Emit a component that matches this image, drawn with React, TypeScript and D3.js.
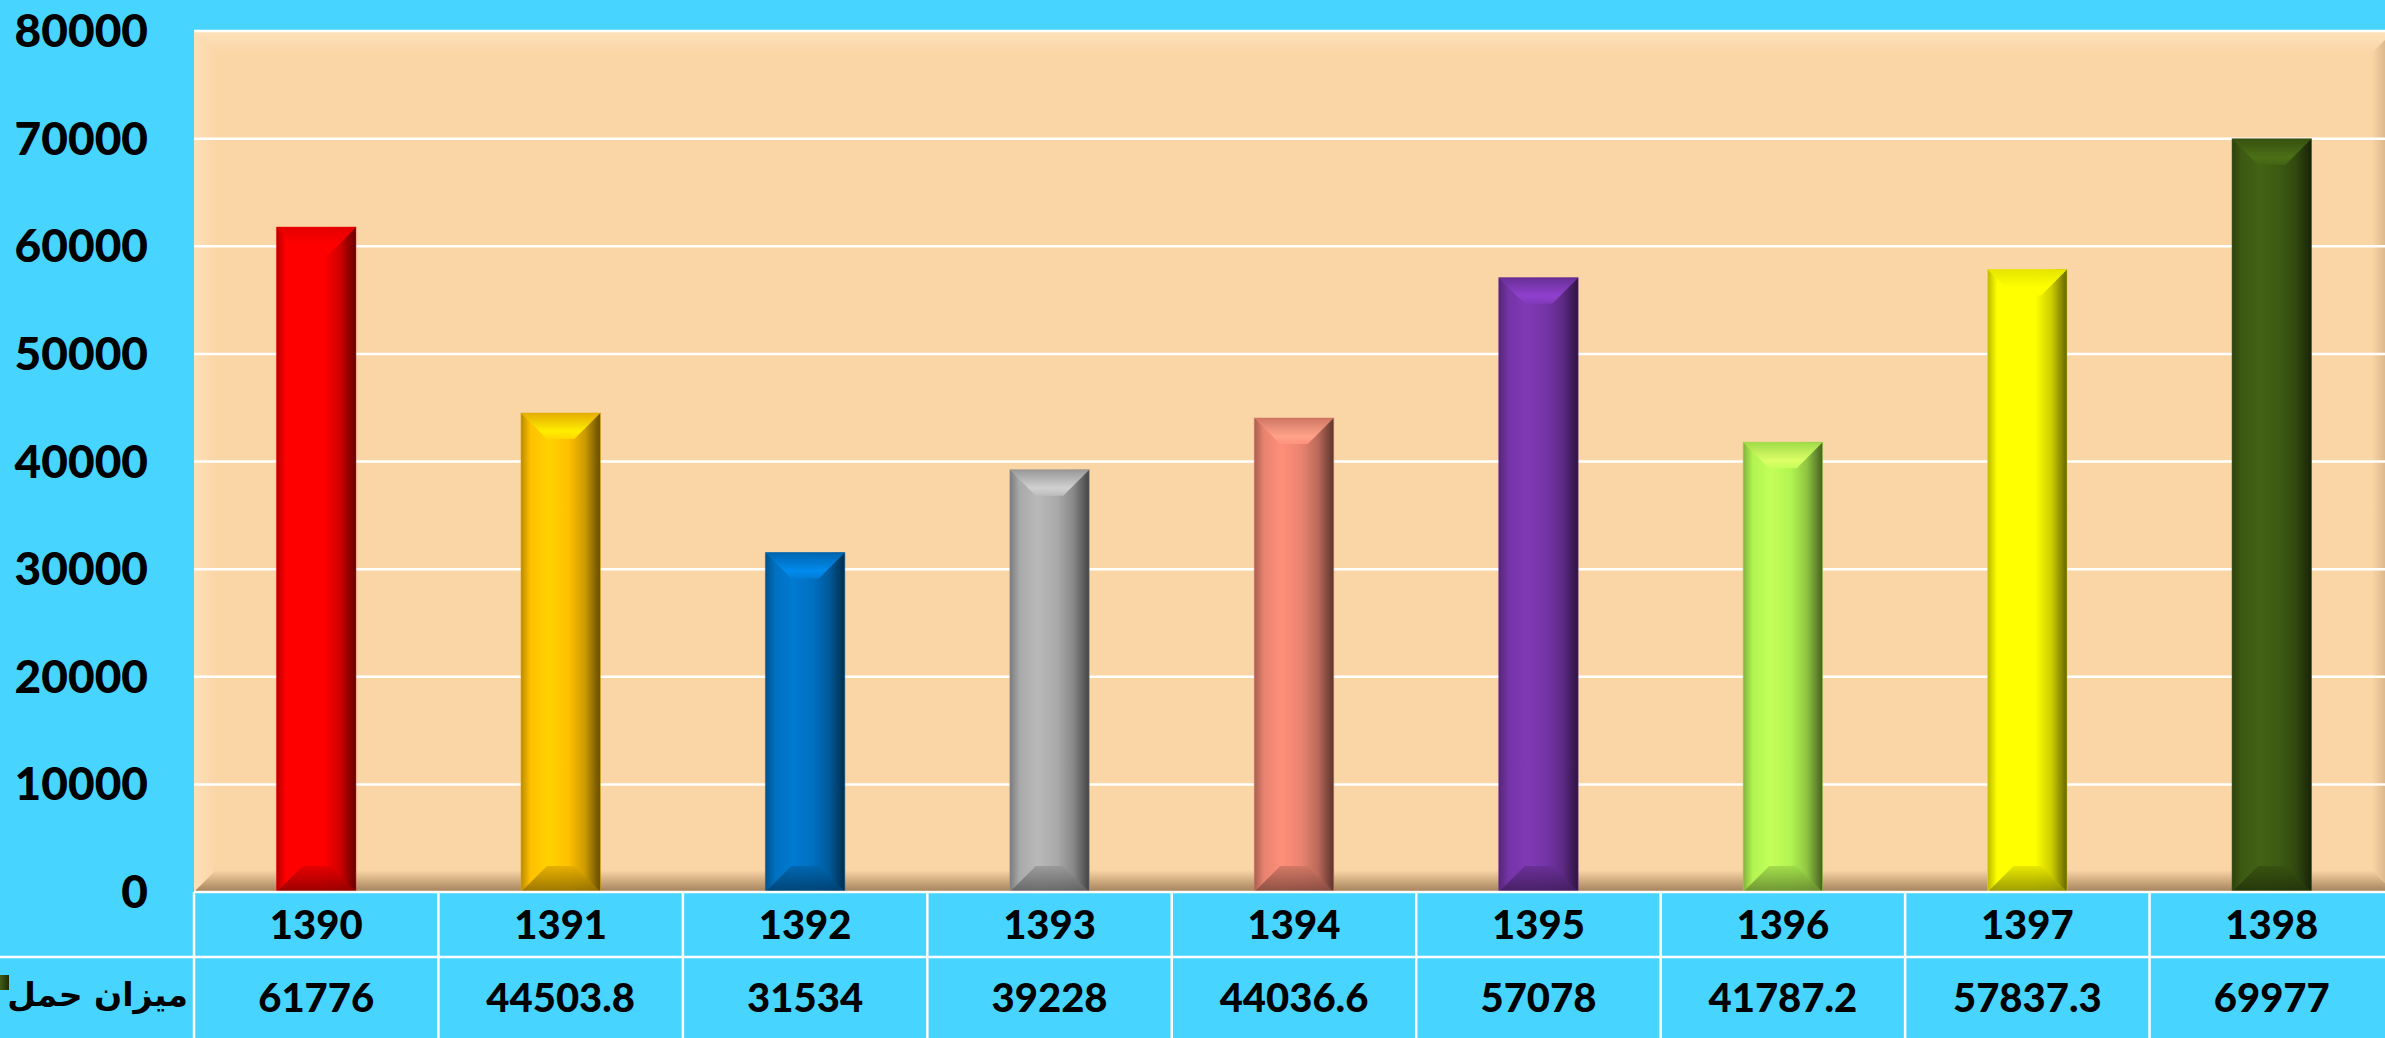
import React from 'react';
import * as d3 from 'd3';

const years = ['1390', '1391', '1392', '1393', '1394', '1395', '1396', '1397', '1398'];
const values = [61776, 44503.8, 31534, 39228, 44036.6, 57078, 41787.2, 57837.3, 69977];
const barColors = ['#ff0000', '#ffc000', '#0070c0', '#a9a9a9', '#e8836f', '#7434a6', '#b2f452', '#ffff00', '#3d5a12'];
const yTicks = [0, 10000, 20000, 30000, 40000, 50000, 60000, 70000, 80000];
const seriesName = 'میزان حمل';

const W = 2385;
const H = 1038;
const BG = '#47d5ff';
const PLOT = '#fad5a6';
const numFont = 'Lato, "DejaVu Sans", sans-serif';

const App = () => {
  const plot = { left: 194, right: 2394, top: 31, bottom: 892 };
  const rowMid = 957;

  const x = d3.scaleBand().domain(years).range([plot.left, plot.right]).padding(0);
  const y = d3.scaleLinear().domain([0, 80000]).range([plot.bottom, plot.top]);
  const barW = x.bandwidth() * 0.325;
  const bev = 26;
  const pb = 22; // plot area bevel

  const shade = (c, k) => d3.color(c).darker(k).formatHex();
  const tint = (c, k) => d3.color(c).brighter(k).formatHex();

  return (
    <svg width={W} height={H} style={{ position: 'absolute', left: 0, top: 0, display: 'block' }}>
      <defs>
        {barColors.map((c, i) => (
          <React.Fragment key={i}>
            <linearGradient id={`side${i}`} x1="0" x2="1" y1="0" y2="0">
              <stop offset="0" stopColor={shade(c, 0.9)} />
              <stop offset="0.12" stopColor={c} />
              <stop offset="0.35" stopColor={tint(c, 0.25)} />
              <stop offset="0.6" stopColor={c} />
              <stop offset="0.8" stopColor={shade(c, 0.6)} />
              <stop offset="1" stopColor={shade(c, 2.6)} />
            </linearGradient>
            <linearGradient id={`top${i}`} x1="0" x2="0" y1="0" y2="1">
              <stop offset="0" stopColor={shade(c, 0.3)} />
              <stop offset="0.7" stopColor={tint(c, 0.6)} />
              <stop offset="1" stopColor={tint(c, 0.3)} />
            </linearGradient>
            <linearGradient id={`bot${i}`} x1="0" x2="0" y1="0" y2="1">
              <stop offset="0" stopColor={shade(c, 0.3)} />
              <stop offset="1" stopColor={shade(c, 1.6)} />
            </linearGradient>
          </React.Fragment>
        ))}
        <linearGradient id="ptop" x1="0" x2="0" y1="0" y2="1">
          <stop offset="0" stopColor="#fee2bc" />
          <stop offset="1" stopColor={PLOT} />
        </linearGradient>
        <linearGradient id="pbot" x1="0" x2="0" y1="0" y2="1">
          <stop offset="0" stopColor={PLOT} />
          <stop offset="1" stopColor="#a3805a" />
        </linearGradient>
        <linearGradient id="pleft" x1="0" x2="1" y1="0" y2="0">
          <stop offset="0" stopColor="#fde0b8" />
          <stop offset="1" stopColor={PLOT} />
        </linearGradient>
        <linearGradient id="pright" x1="0" x2="1" y1="0" y2="0">
          <stop offset="0" stopColor={PLOT} />
          <stop offset="1" stopColor="#c9a57c" />
        </linearGradient>
        <linearGradient id="legKey" x1="0" x2="1" y1="0" y2="0">
          <stop offset="0" stopColor="#5a7a22" />
          <stop offset="1" stopColor="#1e2e06" />
        </linearGradient>
      </defs>

      <rect x={0} y={0} width={W} height={H} fill={BG} />

      {/* plot area with bevel */}
      <rect x={plot.left} y={plot.top} width={plot.right - plot.left} height={plot.bottom - plot.top} fill={PLOT} />
      <polygon
        points={`${plot.left},${plot.top} ${plot.right},${plot.top} ${plot.right - pb},${plot.top + pb} ${plot.left + pb},${plot.top + pb}`}
        fill="url(#ptop)"
      />
      <polygon
        points={`${plot.left},${plot.top} ${plot.left + pb},${plot.top + pb} ${plot.left + pb},${plot.bottom - pb} ${plot.left},${plot.bottom}`}
        fill="url(#pleft)"
      />
      <polygon
        points={`${plot.right},${plot.top} ${plot.right - pb},${plot.top + pb} ${plot.right - pb},${plot.bottom - pb} ${plot.right},${plot.bottom}`}
        fill="url(#pright)"
      />
      <polygon
        points={`${plot.left},${plot.bottom} ${plot.right},${plot.bottom} ${plot.right - pb},${plot.bottom - pb} ${plot.left + pb},${plot.bottom - pb}`}
        fill="url(#pbot)"
      />

      {/* gridlines */}
      {yTicks.filter(t => t > 0).map(t => (
        <line key={t} x1={plot.left} x2={plot.right} y1={y(t)} y2={y(t)} stroke="#ffffff" strokeWidth={2.5} />
      ))}

      {/* y tick labels */}
      {yTicks.map(t => (
        <text
          key={t}
          x={148}
          y={y(t)}
          dy="0.35em"
          textAnchor="end"
          fontFamily={numFont}
          fontWeight={900}
          fontSize={46}
          fill="#000"
        >
          {t}
        </text>
      ))}

      {/* bars */}
      {values.map((v, i) => {
        const cx = x(years[i]) + x.bandwidth() / 2;
        const x0 = cx - barW / 2;
        const x1 = cx + barW / 2;
        const yt = y(v);
        const yb = y(0);
        return (
          <g key={i}>
            <rect x={x0} y={yt} width={barW} height={yb - yt} fill={`url(#side${i})`} />
            <polygon
              points={`${x0},${yt} ${x1},${yt} ${x1 - bev},${yt + bev} ${x0 + bev},${yt + bev}`}
              fill={`url(#top${i})`}
            />
            <polygon
              points={`${x0},${yb} ${x1},${yb} ${x1 - bev},${yb - bev} ${x0 + bev},${yb - bev}`}
              fill={`url(#bot${i})`}
              opacity={0.9}
            />
            <rect x={x0} y={yt} width={barW} height={yb - yt} fill="none" stroke={shade(barColors[i], 0.3)} strokeOpacity={0.5} strokeWidth={1} />
          </g>
        );
      })}

      {/* data table */}
      <line x1={plot.left} x2={W} y1={plot.bottom} y2={plot.bottom} stroke="#fff" strokeWidth={2.5} />
      <line x1={0} x2={W} y1={rowMid} y2={rowMid} stroke="#fff" strokeWidth={2.5} />
      {years.map(yr => (
        <line key={yr} x1={x(yr)} x2={x(yr)} y1={plot.bottom} y2={H} stroke="#fff" strokeWidth={2.5} />
      ))}
      {years.map(yr => (
        <text
          key={yr}
          x={x(yr) + x.bandwidth() / 2}
          y={(plot.bottom + rowMid) / 2}
          dy="0.36em"
          textAnchor="middle"
          fontFamily={numFont}
          fontWeight={900}
          fontSize={40}
        >
          {yr}
        </text>
      ))}
      {values.map((v, i) => (
        <text
          key={i}
          x={x(years[i]) + x.bandwidth() / 2}
          y={998}
          dy="0.36em"
          textAnchor="middle"
          fontFamily={numFont}
          fontWeight={900}
          fontSize={40}
        >
          {v}
        </text>
      ))}

      {/* legend */}
      <rect x={-6} y={975} width={15} height={15} fill="url(#legKey)" />
      <text
        x={188}
        y={996}
        dy="0.3em"
        textAnchor="end"
        fontFamily='"DejaVu Sans", sans-serif'
        fontWeight={700}
        fontSize={33}
      >
        {seriesName}
      </text>
    </svg>
  );
};

export default App;
